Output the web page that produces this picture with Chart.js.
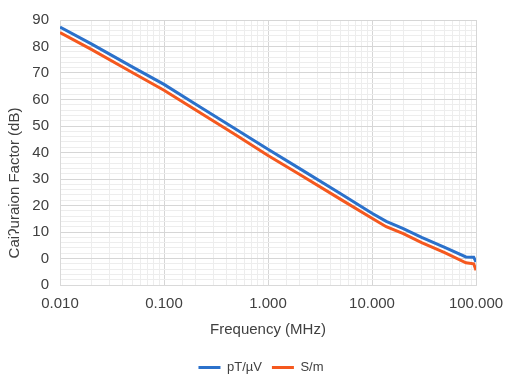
<!DOCTYPE html>
<html>
<head>
<meta charset="utf-8">
<script src="https://cdn.jsdelivr.net/npm/chart.js@4/dist/chart.umd.min.js"></script>
<style>
  html, body { margin: 0; padding: 0; background: #ffffff; }
  #wrap { width: 516px; height: 390px; }
</style>
</head>
<body>
<div id="wrap"><canvas id="c" width="516" height="390"></canvas></div>
<script>
// ---- data ----
const frequencies = [0.01, 0.02, 0.05, 0.1, 0.2, 0.5, 1, 2, 5, 10, 13.7, 20, 30, 50, 80, 95, 100];
const pTperUV =     [87.3, 81.0, 72.2, 65.7, 58.3, 48.6, 41.2, 34.0, 24.4, 17.1, 14.0, 11.3, 8.0, 4.2, 0.6, 0.5, -1.3];
const SperM =       [85.3, 78.9, 70.1, 63.5, 56.1, 46.4, 38.9, 31.8, 22.3, 15.2, 12.0, 9.4, 6.0, 2.2, -1.6, -2.0, -4.4];
const seriesNames = ['pT/\u00B5V', 'S/m'];
const yTickLabels = { '90': '90', '80': '80', '70': '70', '60': '60', '50': '50', '40': '40',
                      '30': '30', '20': '20', '10': '10', '0': '0', '-10': '0' };
const xTickLabels = { '-2': '0.010', '-1': '0.100', '0': '1.000', '1': '10.000', '2': '100.000' };
const xTitle = 'Frequency (MHz)';
const yTitle = 'Cai\u0294uraion Factor (dB)';

const FONT = "'Liberation Sans', Arial, sans-serif";
const TXT = '#404040';

function isDecade(v) {
  const l = Math.log10(v);
  return Math.abs(l - Math.round(l)) < 1e-6;
}

// y-axis title drawn lower than the plot centre, as in the reference
const yTitlePlugin = {
  id: 'yTitlePlugin',
  afterDraw(chart) {
    const ctx = chart.ctx;
    ctx.save();
    ctx.translate(15, 183);
    ctx.rotate(-Math.PI / 2);
    ctx.font = '15px ' + FONT;
    ctx.fillStyle = TXT;
    ctx.textAlign = 'center';
    ctx.textBaseline = 'middle';
    ctx.fillText(yTitle, 0, 0);
    ctx.restore();
  }
};

// shift the legend box so it is centred like the reference
const legendShift = {
  id: 'legendShift',
  afterLayout(chart) {
    if (chart.legend) { chart.legend.left += 23; chart.legend.right += 23; }
  }
};

new Chart(document.getElementById('c'), {
  type: 'line',
  data: {
    datasets: [
      { label: seriesNames[0], data: frequencies.map((f, i) => ({ x: f, y: pTperUV[i] })),
        borderColor: '#2B71CB', backgroundColor: '#2B71CB', borderWidth: 3, pointRadius: 0, tension: 0 },
      { label: seriesNames[1], data: frequencies.map((f, i) => ({ x: f, y: SperM[i] })),
        borderColor: '#F5581E', backgroundColor: '#F5581E', borderWidth: 3, pointRadius: 0, tension: 0 }
    ]
  },
  plugins: [yTitlePlugin, legendShift],
  options: {
    responsive: false,
    animation: false,
    layout: { padding: { top: 20, right: 40, bottom: 6, left: 0 } },
    plugins: {
      legend: {
        position: 'bottom',
        labels: {
          usePointStyle: true, pointStyle: 'line', pointStyleWidth: 22,
          color: TXT, font: { family: FONT, size: 13 }, padding: 10, boxHeight: 13
        }
      },
      tooltip: { enabled: false }
    },
    scales: {
      x: {
        type: 'logarithmic',
        min: 0.01, max: 100,
        border: { display: true, color: '#D9D9D9' },
        grid: {
          drawTicks: false,
          color: ctx => (ctx.tick && isDecade(ctx.tick.value)) ? '#D6D6D6' : '#EDEDED',
          lineWidth: 1
        },
        ticks: {
          autoSkip: false, maxRotation: 0, padding: 10,
          color: TXT, font: { family: FONT, size: 15 },
          callback: function (v) {
            if (!isDecade(v)) return '';
            const k = String(Math.round(Math.log10(v)));
            return xTickLabels[k] !== undefined ? xTickLabels[k] : '';
          }
        },
        title: { display: true, text: xTitle, color: TXT, font: { family: FONT, size: 15 }, padding: { top: 6, bottom: 12 } },
        afterFit: s => { s.height = 66; }
      },
      y: {
        type: 'linear',
        min: -10, max: 90,
        border: { display: true, color: '#D9D9D9' },
        grid: {
          drawTicks: false,
          color: ctx => (ctx.tick && Math.round(ctx.tick.value) % 10 === 0) ? '#D6D6D6' : '#EDEDED',
          lineWidth: 1
        },
        ticks: {
          stepSize: 2, autoSkip: false, padding: 11,
          color: TXT, font: { family: FONT, size: 15 },
          callback: v => {
            const r = Math.round(v);
            return (r % 10 === 0 && yTickLabels[String(r)] !== undefined) ? yTickLabels[String(r)] : '';
          }
        },
        title: { display: false },
        afterFit: s => { s.width = 60; }
      }
    }
  }
});
</script>
</body>
</html>
